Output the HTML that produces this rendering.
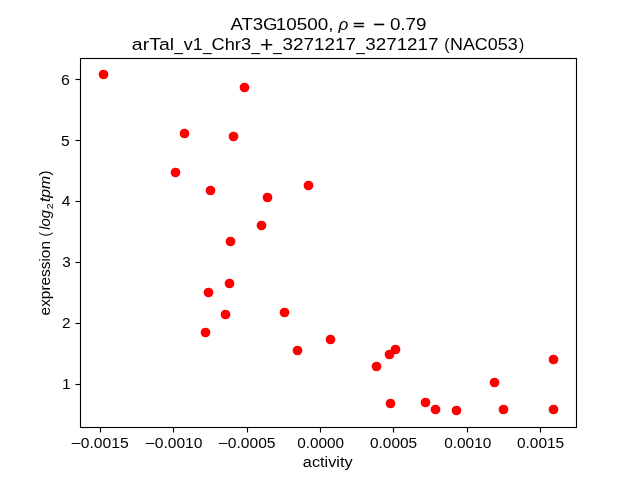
<!DOCTYPE html>
<html lang="en">
<head>
<meta charset="utf-8">
<title>AT3G10500 activity vs expression</title>
<style>
html,body{margin:0;padding:0;background:#fff;}
body{width:640px;height:480px;overflow:hidden;}
svg{display:block;}
text{font-family:"Liberation Sans",sans-serif;fill:#000;}
.t text{font-size:13.89px;}
.ti text{font-size:16.67px;}
.t,.ti{will-change:transform;}
.i{font-style:italic;}
.sp{stroke:#000;stroke-width:1.11;fill:none;}
.m{fill:#f00;}
</style>
</head>
<body>
<svg width="640" height="480" viewBox="0 0 640 480">
<rect x="0" y="0" width="640" height="480" fill="#fff"/>
<!-- data points -->
<g class="m">
<circle cx="103.5" cy="74.5" r="4.86"/>
<circle cx="244.5" cy="87.5" r="4.86"/>
<circle cx="184.5" cy="133.5" r="4.86"/>
<circle cx="233.5" cy="136.5" r="4.86"/>
<circle cx="175.5" cy="172.5" r="4.86"/>
<circle cx="210.5" cy="190.5" r="4.86"/>
<circle cx="267.5" cy="197.5" r="4.86"/>
<circle cx="308.5" cy="185.5" r="4.86"/>
<circle cx="261.5" cy="225.5" r="4.86"/>
<circle cx="230.5" cy="241.5" r="4.86"/>
<circle cx="229.5" cy="283.5" r="4.86"/>
<circle cx="208.5" cy="292.5" r="4.86"/>
<circle cx="225.5" cy="314.5" r="4.86"/>
<circle cx="205.5" cy="332.5" r="4.86"/>
<circle cx="284.5" cy="312.5" r="4.86"/>
<circle cx="297.5" cy="350.5" r="4.86"/>
<circle cx="330.5" cy="339.5" r="4.86"/>
<circle cx="376.5" cy="366.5" r="4.86"/>
<circle cx="389.5" cy="354.5" r="4.86"/>
<circle cx="395.5" cy="349.5" r="4.86"/>
<circle cx="390.5" cy="403.5" r="4.86"/>
<circle cx="425.5" cy="402.5" r="4.86"/>
<circle cx="435.5" cy="409.5" r="4.86"/>
<circle cx="456.5" cy="410.5" r="4.86"/>
<circle cx="494.5" cy="382.5" r="4.86"/>
<circle cx="503.5" cy="409.5" r="4.86"/>
<circle cx="553.5" cy="359.5" r="4.86"/>
<circle cx="553.5" cy="409.5" r="4.86"/>
</g>
<!-- axes frame and ticks -->
<g class="sp">
<line x1="100.5" y1="427.5" x2="100.5" y2="432.5"/>
<line x1="173.5" y1="427.5" x2="173.5" y2="432.5"/>
<line x1="247.5" y1="427.5" x2="247.5" y2="432.5"/>
<line x1="320.5" y1="427.5" x2="320.5" y2="432.5"/>
<line x1="393.5" y1="427.5" x2="393.5" y2="432.5"/>
<line x1="467.5" y1="427.5" x2="467.5" y2="432.5"/>
<line x1="540.5" y1="427.5" x2="540.5" y2="432.5"/>
<line x1="75.5" y1="79.5" x2="80.5" y2="79.5"/>
<line x1="75.5" y1="140.5" x2="80.5" y2="140.5"/>
<line x1="75.5" y1="201.5" x2="80.5" y2="201.5"/>
<line x1="75.5" y1="262.5" x2="80.5" y2="262.5"/>
<line x1="75.5" y1="323.5" x2="80.5" y2="323.5"/>
<line x1="75.5" y1="384.5" x2="80.5" y2="384.5"/>
<rect x="80.5" y="58.5" width="496" height="369"/>
</g>
<!-- tick labels and axis labels -->
<g class="t">
<text transform="translate(70.44,447.6) scale(1.2963,1)">−</text>
<text transform="translate(80.69,447.6) scale(1.1299,1)">0.0015</text>
<text transform="translate(144.49,447.6) scale(1.2889,1)">−</text>
<text transform="translate(154.74,447.6) scale(1.1239,1)">0.0010</text>
<text transform="translate(217.44,447.6) scale(1.2963,1)">−</text>
<text transform="translate(227.69,447.6) scale(1.1275,1)">0.0005</text>
<text transform="translate(297.2,447.6) scale(1.1057,1)">0.0000</text>
<text transform="translate(370.05,447.6) scale(1.1069,1)">0.0005</text>
<text transform="translate(444.14,447.6) scale(1.1118,1)">0.0010</text>
<text transform="translate(516.94,447.6) scale(1.1118,1)">0.0015</text>
<text transform="translate(60.94,84.8) scale(1.1451,1)">6</text>
<text transform="translate(61.1,145.8) scale(1.1231,1)">5</text>
<text transform="translate(61.78,205.8) scale(1.1286,1)">4</text>
<text transform="translate(62.25,266.9) scale(1.1019,1)">3</text>
<text transform="translate(61.97,328) scale(1.1040,1)">2</text>
<text transform="translate(62.12,388.9) scale(1.1250,1)">1</text>
<text transform="translate(302.87,466.6) scale(1.1737,1)">activity</text>
<text transform="translate(49.8,315.39) rotate(-90) scale(1.1078,1)">expression</text>
<text transform="translate(49.8,236.42) rotate(-90) scale(0.9379,1)">(</text>
<text class="i" transform="translate(49.8,229.87) rotate(-90) scale(1.0648,1)">log</text>
<text style="font-size:9.72px" transform="translate(53.1,209.35) rotate(-90) scale(1.0971,1)">2</text>
<text class="i" transform="translate(49.8,202.11) rotate(-90) scale(1.1337,1)">tpm</text>
<text transform="translate(49.8,175.64) rotate(-90) scale(1.1586,1)">)</text>
</g>
<!-- title -->
<g class="ti">
<text transform="translate(230.4,29.9) scale(1.1146,1)">AT3G</text>
<text transform="translate(275.83,29.9) scale(1.1326,1)">10500,</text>
<text class="i" transform="translate(338.49,29.9) scale(1.0293,1)">ρ</text>
<text style="stroke:#000;stroke-width:0.45" transform="translate(353.04,28.93) scale(1.2125,0.75)">=</text>
<text style="stroke:#000;stroke-width:0.5" transform="translate(373.15,30.48) scale(1.2000,1)">−</text>
<text transform="translate(389.89,29.9) scale(1.1290,1)">0.79</text>
<text transform="translate(131.87,49.8) scale(1.1679,1)">arTal</text>
<text transform="translate(174.23,50.6) scale(0.9231,1)">_</text>
<text transform="translate(183.77,49.8) scale(1.0737,1)">v1</text>
<text transform="translate(202.98,50.6) scale(0.9385,1)">_</text>
<text transform="translate(211.54,49.8) scale(1.0942,1)">Chr3</text>
<text transform="translate(251.48,50.6) scale(0.9231,1)">_</text>
<text transform="translate(260.05,51.88) scale(1.3750,1.3)">+</text>
<text transform="translate(273.33,50.6) scale(0.9231,1)">_</text>
<text transform="translate(282.39,49.8) scale(1.1345,1)">3271217</text>
<text transform="translate(356.23,50.6) scale(0.9231,1)">_</text>
<text transform="translate(365.29,49.8) scale(1.1282,1)">3271217</text>
<text transform="translate(444.3,49.8) scale(0.9486,1)">(</text>
<text transform="translate(450.02,49.8) scale(1.0743,1)">NAC053</text>
<text transform="translate(518.88,49.8) scale(0.9371,1)">)</text>
</g>
</svg>
</body>
</html>
